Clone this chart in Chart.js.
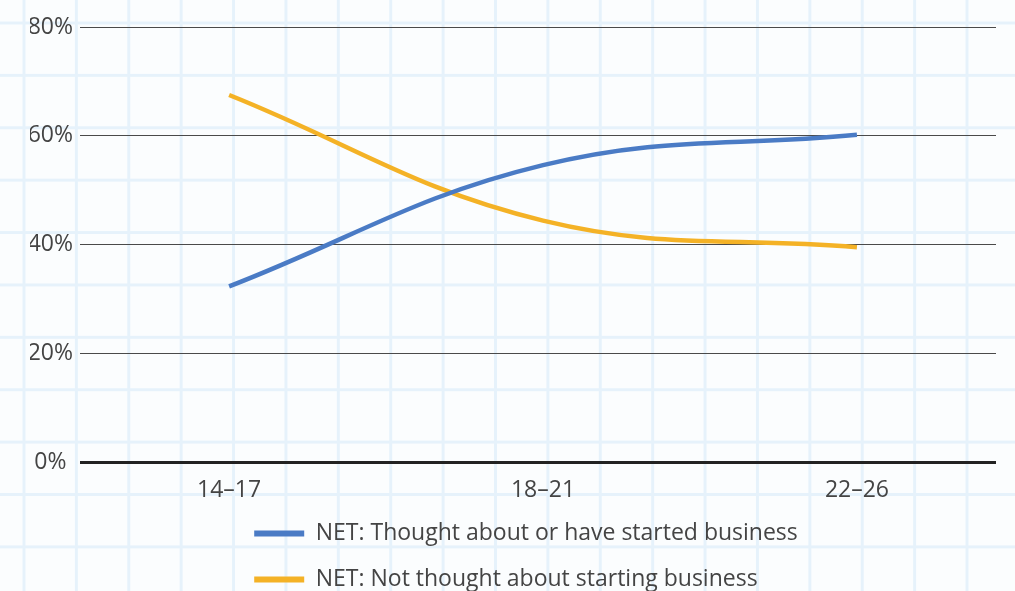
<!DOCTYPE html>
<html>
<head>
<meta charset="utf-8">
<script src="https://cdn.jsdelivr.net/npm/chart.js@4"></script>
<style>
  html, body {
    margin: 0;
    padding: 0;
  }
  body {
    width: 1015px;
    height: 591px;
    overflow: hidden;
    background-color: #fbfdfe;
    background-image:
      linear-gradient(to right, #e6f2fb 3px, transparent 3px),
      linear-gradient(to bottom, #e6f2fb 3px, transparent 3px);
    background-size: 52.4px 52.4px;
    background-position: 22.5px 21.5px;
  }
  #wrap {
    position: relative;
    width: 1015px;
    height: 591px;
  }
</style>
</head>
<body>
<div id="wrap"><canvas id="chart"></canvas></div>
<script>
const categories = ['14–17', '18–21', '22–26']
const yTicks = [0, 20, 40, 60, 80]
const startedLabel = 'NET: Thought about or have started business'
const startedValues = [32.3, 54.6, 60.2]
const notLabel = 'NET: Not thought about starting business'
const notValues = [67.5, 44.4, 39.5]

const textColor = '#444444'
const font = { family: 'Open Sans', size: 23 }

// both legend rows start at the same x, a bit right of centre, like the original
const legendRows = {
  id: 'legendRows',
  beforeDraw(chart) {
    const lw = chart.legend.lineWidths
    const m = Math.max(...lw)
    chart.legend.lineWidths = lw.map(() => m - 26)
  }
}

const chart = new Chart(document.getElementById('chart').getContext('2d'), {
  type: 'line',
  data: {
    datasets: [
      {
        label: startedLabel,
        data: startedValues.map((v, i) => ({ x: i, y: v })),
        borderColor: '#4a7bc5',
        backgroundColor: '#4a7bc5',
        borderWidth: 4.5,
        tension: 0.4,
        pointRadius: 0,
        fill: false
      },
      {
        label: notLabel,
        data: notValues.map((v, i) => ({ x: i, y: v })),
        borderColor: '#f4b226',
        backgroundColor: '#f4b226',
        borderWidth: 4.5,
        tension: 0.4,
        pointRadius: 0,
        fill: false
      }
    ]
  },
  options: {
    responsive: true,
    maintainAspectRatio: false,
    animation: false,
    layout: {
      padding: { top: 27, left: 30, right: 19, bottom: -10 }
    },
    scales: {
      x: {
        type: 'linear',
        min: -0.475,
        max: 2.443,
        border: { display: false },
        grid: { display: false, drawTicks: false },
        afterBuildTicks(scale) {
          scale.ticks = categories.map((c, i) => ({ value: i }))
        },
        afterFit(scale) {
          scale.height = 37
        },
        ticks: {
          autoSkip: false,
          maxRotation: 0,
          padding: 15,
          color: textColor,
          font: font,
          callback: (v) => categories[v] ?? ''
        }
      },
      y: {
        min: 0,
        max: 80,
        border: { display: false },
        afterBuildTicks(scale) {
          scale.ticks = yTicks.map((v) => ({ value: v }))
        },
        afterFit(scale) {
          scale.width = 50
        },
        grid: {
          drawTicks: false,
          color: (ctx) => (ctx.tick && ctx.tick.value === 0 ? '#222222' : '#4a4a4a'),
          lineWidth: (ctx) => (ctx.tick && ctx.tick.value === 0 ? 3 : 1)
        },
        ticks: {
          crossAlign: 'center',
          padding: 7,
          color: textColor,
          font: font,
          callback: (v) => v + '%'
        }
      }
    },
    plugins: {
      tooltip: { enabled: false },
      legend: {
        position: 'bottom',
        labels: {
          color: textColor,
          font: font,
          boxWidth: 50,
          boxHeight: 6,
          padding: 23,
          generateLabels(chart) {
            return Chart.defaults.plugins.legend.labels.generateLabels(chart).map((item) => {
              item.lineWidth = 0
              item.fillStyle = item.strokeStyle
              return item
            })
          }
        }
      }
    }
  },
  plugins: [legendRows]
})
</script>
</body>
</html>
